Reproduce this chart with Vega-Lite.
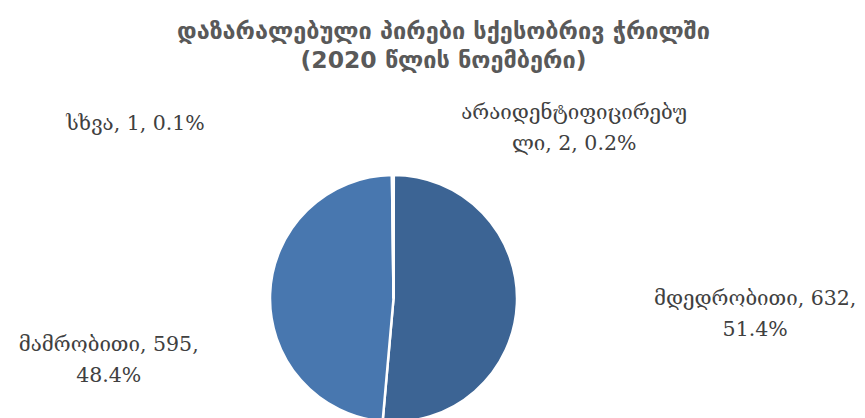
{
  "$schema": "https://vega.github.io/schema/vega-lite/v6.json",
  "width": 787,
  "height": 240,
  "autosize": "none",
  "padding": {"left": 0, "top": 178.5, "right": 78, "bottom": 0},
  "background": "white",
  "title": {
    "text": ["დაზარალებული პირები სქესობრივ ჭრილში", "(2020  წლის  ნოემბერი)"],
    "anchor": "middle",
    "frame": "group",
    "dx": 50,
    "offset": 31,
    "font": "DejaVu Sans",
    "fontSize": 23.5,
    "fontWeight": "bold",
    "lineHeight": 29,
    "color": "#595959"
  },
  "data": {
    "values": [
      {"k": "მდედრობითი", "value": 632, "pct": "51.4%", "label": ["მდედრობითი, 632,", "51.4%"]},
      {"k": "მამრობითი", "value": 595, "pct": "48.4%", "label": ["მამრობითი, 595,", "48.4%"]},
      {"k": "სხვა", "value": 1, "pct": "0.1%", "label": ["სხვა, 1, 0.1%"]},
      {"k": "არაიდენტიფიცირებული", "value": 2, "pct": "0.2%", "label": ["არაიდენტიფიცირებუ", "ლი, 2, 0.2%"]}
    ]
  },
  "transform": [
    {"stack": "value", "groupby": [], "sort": [{"field": "value", "order": "descending"}], "as": ["v0", "v1"]},
    {"fold": ["v0", "v1"], "as": ["edge", "ev"]},
    {"joinaggregate": [{"op": "mean", "field": "ev", "as": "mid"}], "groupby": ["k"]},
    {"filter": "datum.edge === 'v0'"}
  ],
  "layer": [
    {
      "mark": {"type": "arc", "outerRadius": 123.5, "stroke": "white", "strokeWidth": 2.5},
      "encoding": {
        "theta": {"field": "v0", "type": "quantitative", "scale": {"nice": false, "zero": true}},
        "theta2": {"field": "v1"},
        "color": {
          "field": "k",
          "type": "nominal",
          "scale": {
            "domain": ["მდედრობითი", "მამრობითი", "სხვა", "არაიდენტიფიცირებული"],
            "range": ["#3C6494", "#4877AF", "#5B8BC5", "#2E5585"]
          },
          "legend": null
        }
      }
    },
    {
      "transform": [{"filter": "datum.k === 'მდედრობითი'"}],
      "mark": {"type": "text", "radius": 362, "dy": -15.5, "font": "DejaVu Serif", "fontSize": 20.5, "lineHeight": 31, "fill": "#404040", "align": "center", "baseline": "middle"},
      "encoding": {
        "theta": {"field": "mid", "type": "quantitative", "scale": {"nice": false, "zero": true}},
        "text": {"field": "label", "type": "nominal"}
      }
    },
    {
      "transform": [{"filter": "datum.k === 'მამრობითი'"}],
      "mark": {"type": "text", "radius": 285, "dy": 57, "font": "DejaVu Serif", "fontSize": 20.5, "lineHeight": 31, "fill": "#404040", "align": "center", "baseline": "middle"},
      "encoding": {
        "theta": {"field": "mid", "type": "quantitative", "scale": {"nice": false, "zero": true}},
        "text": {"field": "label", "type": "nominal"}
      }
    },
    {
      "transform": [{"filter": "datum.k === 'სხვა'"}],
      "mark": {"type": "text", "radius": 174.5, "dx": -258, "font": "DejaVu Serif", "fontSize": 20.5, "lineHeight": 31, "fill": "#404040", "align": "center", "baseline": "middle"},
      "encoding": {
        "theta": {"field": "mid", "type": "quantitative", "scale": {"nice": false, "zero": true}},
        "text": {"field": "label", "type": "nominal"}
      }
    },
    {
      "transform": [{"filter": "datum.k === 'არაიდენტიფიცირებული'"}],
      "mark": {"type": "text", "radius": 170, "dx": 182, "dy": -15.5, "font": "DejaVu Serif", "fontSize": 20.5, "lineHeight": 31, "fill": "#404040", "align": "center", "baseline": "middle"},
      "encoding": {
        "theta": {"field": "mid", "type": "quantitative", "scale": {"nice": false, "zero": true}},
        "text": {"field": "label", "type": "nominal"}
      }
    }
  ]
}
